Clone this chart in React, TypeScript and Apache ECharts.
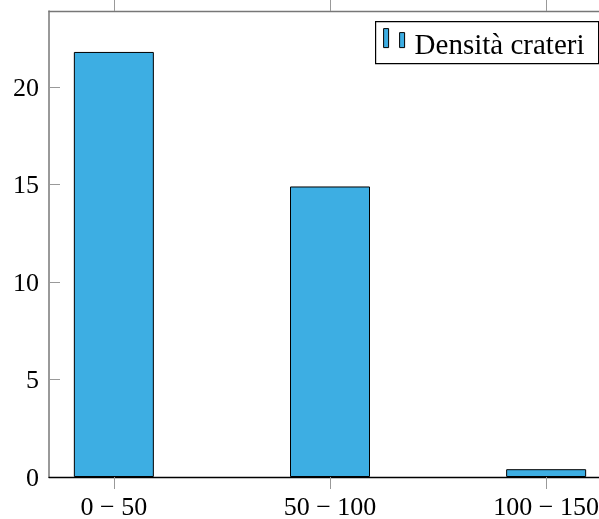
import React, { useEffect, useRef } from "react";
import * as echarts from "echarts";

const categories = ["0 − 50", "50 − 100", "100 − 150"];
const density = [21.8, 14.9, 0.4];
const yTicks = [0, 5, 10, 15, 20];
const seriesName = "Densità crateri";

export default function App() {
  const ref = useRef<HTMLDivElement>(null);
  useEffect(() => {
    if (!ref.current) return;
    const chart = echarts.init(ref.current, null, { renderer: "svg" });
    const font = "'Liberation Serif', 'DejaVu Serif', serif";
    const xIdx = categories.map((_, i) => i);
    chart.setOption({
      animation: false,
      textStyle: { fontFamily: font },
      grid: { left: 49, top: 11, right: 0, bottom: 41 },
      xAxis: [
        {
          type: "value",
          min: -0.3,
          max: 2.3,
          position: "bottom",
          splitLine: { show: false },
          axisLine: { show: true, onZero: false, lineStyle: { color: "#000", width: 1.3 } },
          axisTick: { show: true, customValues: xIdx, length: 12, inside: false, lineStyle: { color: "#999", width: 1 } },
          axisLabel: {
            customValues: xIdx,
            formatter: (v: number) => categories[Math.round(v)] ?? "",
            fontFamily: font,
            fontSize: 26,
            color: "#000",
            margin: 16,
          },
        },
        {
          type: "value",
          min: -0.3,
          max: 2.3,
          position: "top",
          splitLine: { show: false },
          axisLine: { show: true, onZero: false, lineStyle: { color: "#777", width: 1.3 } },
          axisTick: { show: true, customValues: xIdx, length: 11, inside: false, lineStyle: { color: "#999", width: 1 } },
          axisLabel: { show: false },
        },
      ],
      yAxis: {
        type: "value",
        min: 0,
        max: 23.9,
        splitLine: { show: false },
        axisLine: { show: true, onZero: false, lineStyle: { color: "#777", width: 1.5 } },
        axisTick: { show: true, customValues: yTicks.filter((t) => t > 0), length: 11, inside: true, lineStyle: { color: "#999", width: 1 } },
        axisLabel: {
          customValues: yTicks,
          fontFamily: font,
          fontSize: 26,
          color: "#000",
          margin: 10,
        },
      },
      series: [
        {
          name: seriesName,
          type: "bar",
          xAxisIndex: 0,
          barWidth: 80,
          data: density.map((v, i) => [i, v]),
          itemStyle: { color: "#3DAEE3", borderColor: "#000", borderWidth: 1 },
        },
      ],
      graphic: [
        {
          id: "legend",
          type: "group",
          left: 375,
          top: 21,
          children: [
            { type: "rect", shape: { x: 0, y: 0, width: 223, height: 42 }, style: { fill: "#fff", stroke: "#000", lineWidth: 1.2 } },
            { type: "rect", shape: { x: 8, y: 7, width: 5, height: 19 }, style: { fill: "#3DAEE3", stroke: "#000", lineWidth: 1 } },
            { type: "rect", shape: { x: 24, y: 11, width: 5, height: 15 }, style: { fill: "#3DAEE3", stroke: "#000", lineWidth: 1 } },
            {
              type: "text",
              x: 39,
              y: 22,
              style: { text: seriesName, font: `29px ${font}`, fill: "#000", textVerticalAlign: "middle" },
            },
          ],
        },
      ],
    });
    try {
      const y0 = chart.convertToPixel({ yAxisIndex: 0 }, 0) as number;
      const ticks = xIdx.map((i) => {
        const px = Math.round(chart.convertToPixel({ xAxisIndex: 0 }, i) as number) + 0.5;
        return {
          id: "btick" + i,
          type: "line",
          z: 10,
          shape: { x1: px, y1: y0 + 1, x2: px, y2: y0 + 12 },
          style: { stroke: "#999", lineWidth: 1 },
        };
      });
      chart.setOption({ graphic: ticks });
    } catch (e) {
      // ignore
    }
    return () => chart.dispose();
  }, []);
  return (
    <div style={{ position: "fixed", left: 0, top: 0, width: 599, height: 519, overflow: "hidden" }}>
      <div ref={ref} style={{ position: "absolute", left: 0, top: 0, width: 611, height: 519 }} />
    </div>
  );
}
